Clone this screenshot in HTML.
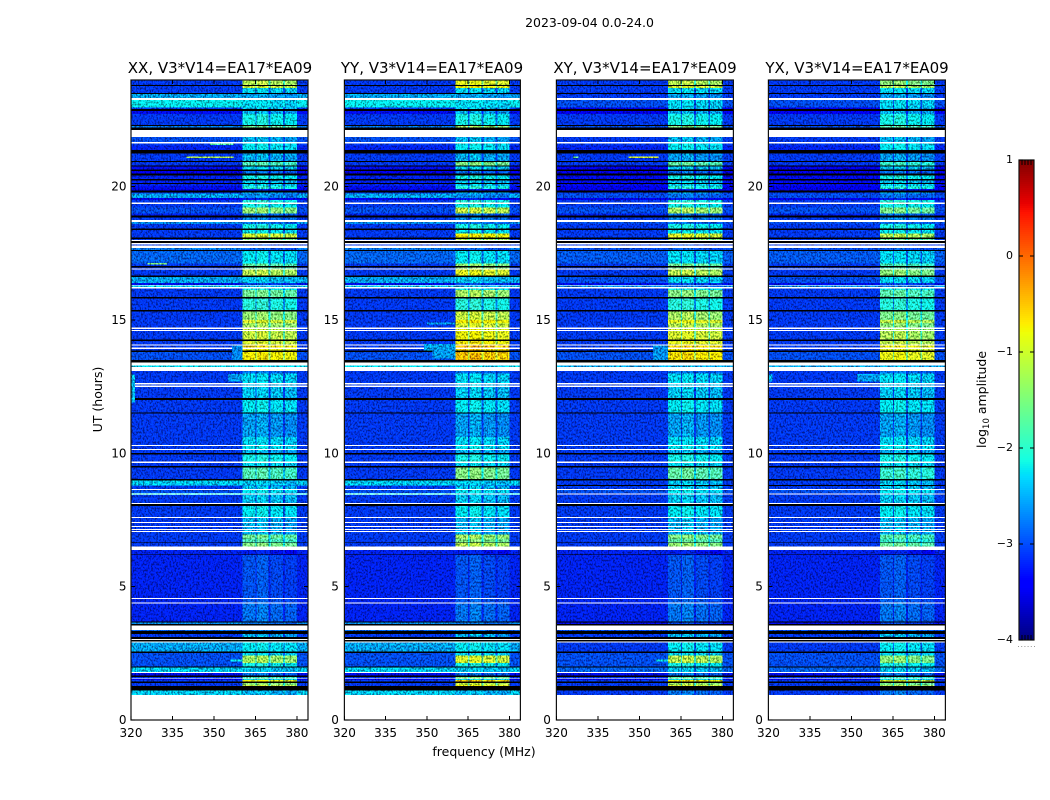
<!DOCTYPE html>
<html lang="en">
<head>
<meta charset="utf-8">
<title>2023-09-04 spectrograms</title>
<style>
html,body{margin:0;padding:0;background:#fff;width:1050px;height:800px;overflow:hidden}
svg{display:block}
text{font-family:"DejaVu Sans","Liberation Sans",sans-serif;fill:#000}
.tick{font-size:12px}
.title{font-size:15px}
.label{font-size:12.5px}
</style>
</head>
<body>
<svg id="chart" xmlns="http://www.w3.org/2000/svg" width="1050" height="800" viewBox="0 0 1050 800">
<defs>
<filter id="speckle-0" x="0" y="0" width="1" height="1" color-interpolation-filters="sRGB"><feTurbulence type="fractalNoise" baseFrequency="0.6 0.5" numOctaves="2" seed="3" result="n"/><feColorMatrix in="n" values="3 0 0 0 -1 3 0 0 0 -1 3 0 0 0 -1 0 0 0 0 1" result="v"/><feComposite in="SourceGraphic" in2="v" operator="arithmetic" k1="0.85" k2="0.57" k3="0" k4="0"/></filter>
<filter id="speckle-1" x="0" y="0" width="1" height="1" color-interpolation-filters="sRGB"><feTurbulence type="fractalNoise" baseFrequency="0.6 0.5" numOctaves="2" seed="11" result="n"/><feColorMatrix in="n" values="3 0 0 0 -1 3 0 0 0 -1 3 0 0 0 -1 0 0 0 0 1" result="v"/><feComposite in="SourceGraphic" in2="v" operator="arithmetic" k1="0.85" k2="0.57" k3="0" k4="0"/></filter>
<filter id="speckle-2" x="0" y="0" width="1" height="1" color-interpolation-filters="sRGB"><feTurbulence type="fractalNoise" baseFrequency="0.6 0.5" numOctaves="2" seed="23" result="n"/><feColorMatrix in="n" values="3 0 0 0 -1 3 0 0 0 -1 3 0 0 0 -1 0 0 0 0 1" result="v"/><feComposite in="SourceGraphic" in2="v" operator="arithmetic" k1="0.85" k2="0.57" k3="0" k4="0"/></filter>
<filter id="speckle-3" x="0" y="0" width="1" height="1" color-interpolation-filters="sRGB"><feTurbulence type="fractalNoise" baseFrequency="0.6 0.5" numOctaves="2" seed="37" result="n"/><feColorMatrix in="n" values="3 0 0 0 -1 3 0 0 0 -1 3 0 0 0 -1 0 0 0 0 1" result="v"/><feComposite in="SourceGraphic" in2="v" operator="arithmetic" k1="0.85" k2="0.57" k3="0" k4="0"/></filter>
</defs>
<rect x="0" y="0" width="1050" height="800" fill="#fff"/>
<text x="589.5" y="27" text-anchor="middle" style="font-size:12.5px">2023-09-04 0.0-24.0</text>
<text class="title" x="220" y="73" text-anchor="middle">XX, V3*V14=EA17*EA09</text>
<text class="title" x="432" y="73" text-anchor="middle">YY, V3*V14=EA17*EA09</text>
<text class="title" x="645" y="73" text-anchor="middle">XY, V3*V14=EA17*EA09</text>
<text class="title" x="857" y="73" text-anchor="middle">YX, V3*V14=EA17*EA09</text>
<text class="label" x="484" y="756" text-anchor="middle">frequency (MHz)</text>
<text class="label" transform="translate(102,399.5) rotate(-90)" text-anchor="middle">UT (hours)</text>
<text class="label" transform="translate(986,399.5) rotate(-90)" text-anchor="middle">log<tspan dy="3" style="font-size:8.5px">10</tspan><tspan dy="-3"> amplitude</tspan></text>
<g id="panels"></g>
<g id="colorbar"></g>
</svg>
<script>
/* ---------- data (log10 amplitude, hours, MHz) ---------- */
const W = null;   // no data (white)
const K = -9;     // below colour range (black)

const hourTicks = [0, 5, 10, 15, 20];
const freqTicks = [320, 335, 350, 365, 380];
const colorTicks = [1, 0, -1, -2, -3, -4];
const colorTickLabels = ['1', '0', '\u22121', '\u22122', '\u22123', '\u22124'];

// lower edge (hours) of each time row, top of the plot downward
const rowEdge = [
23.81,23.78,23.70,23.51,23.48,23.33,23.25,22.97,22.91,22.84,
22.73,22.31,22.28,22.22,22.13,21.86,21.68,21.62,21.54,21.38,
21.24,20.96,20.93,20.79,20.76,20.64,20.59,20.49,20.42,20.29,
20.23,20.14,20.10,20.03,19.91,19.86,19.78,19.74,19.58,19.50,
19.41,19.35,19.22,18.99,18.92,18.84,18.75,18.68,18.60,18.43,
18.38,18.24,18.09,18.04,18.00,17.96,17.89,17.83,17.79,17.70,
17.63,17.59,17.12,17.03,16.97,16.93,16.89,16.67,16.61,16.39,
16.32,16.29,16.24,16.18,16.13,15.86,15.81,15.38,15.31,15.00,
14.89,14.71,14.66,14.63,14.59,14.54,14.26,14.21,14.09,14.04,
13.96,13.92,13.86,13.80,13.50,13.41,13.30,13.23,13.09,13.00,
12.63,12.59,12.54,12.49,12.08,12.00,11.54,11.50,10.62,10.31,
10.28,10.17,10.13,10.02,9.96,9.69,9.64,9.53,9.46,9.03,
8.99,8.81,8.78,8.66,8.63,8.52,8.50,8.46,8.43,8.13,
8.10,8.03,7.61,7.58,7.43,7.39,7.28,7.24,7.16,7.13,
7.09,7.05,6.96,6.81,6.66,6.63,6.50,6.38,6.21,6.19,
4.58,4.54,4.40,4.36,3.69,3.65,3.60,3.55,3.38,3.33,
3.23,3.12,3.04,3.00,2.95,2.91,2.56,2.52,2.41,2.13,
2.00,1.96,1.80,1.76,1.66,1.61,1.56,1.54,1.50,1.44,
1.39,1.32,1.28,1.24,1.10,0.94,0
];

// background level outside the 360-380 MHz block, parallel hands (XX, YY)
const parallelBase = [
-3,K,-3,-3,K,-2.5,W,-2.1,-3,K,
-3.2,-3,K,-2.7,K,W,-2.9,W,-3,-3.1,
K,-3,K,-3,K,-3.2,K,-3.3,K,-3.1,
K,-3.1,K,-3.1,-3.2,-3.4,K,-3,-2.5,-3.3,
-3,W,-3,-2.9,-3.1,K,-3,W,-2.6,-3,
K,-3,-3,K,-3,W,K,W,-3,W,
-2.7,K,-2.8,-3,K,-3,W,-3,K,-2.5,
-3.2,W,-2.3,W,-3,-3,K,-3,K,-3,
-3,-3,W,-3,W,-3,-3,K,-3,W,
-3,W,-3,K,-2.9,K,W,-2.2,W,-3,
-3,W,-3,W,-3,K,-3,K,-3,-3,
W,-3,W,-3,K,-3,W,-3,K,-3,
K,-2.3,-2.6,-3,W,-2.9,W,-2.2,W,-3,
W,K,-3,W,-3,W,-3,W,-3,W,
-3,W,-3,-3,-3,K,-3,W,-3.1,K,
-3.1,W,-3.1,W,-3.1,K,-2.6,K,W,-2.8,
K,-3,K,W,K,W,-2.5,K,-2.9,-2.9,
-2.9,K,-2.3,W,-3.2,K,-3,W,-3.3,-3,
K,-3,-3,K,K,-2.3,W
];

// level inside the 360-380 MHz block, parallel hands
const parallelBand = [
-1.1,K,-0.95,-2.1,K,-2.4,W,-2.1,-2.2,K,
-2.3,-1.9,K,-1.5,K,W,-2.3,W,-2,-2,
K,-2.3,K,-1.7,K,-2.1,K,-2.6,K,-1.9,
K,-2.2,K,-2.1,-1.8,-3,K,-2.3,-2.5,-3,
-1.8,W,-1.9,-1.3,-2.6,K,-2.5,W,-2.6,-1.9,
K,-2,-0.9,K,-1.4,W,K,W,-2.8,W,
-2.7,K,-2,-1.6,K,-1.6,W,-1.1,K,-2.2,
-2.8,W,-2.3,W,-1.9,-1.5,K,-1.8,K,-1.3,
-0.9,-1.2,W,-1,W,-1,-1,K,-0.9,W,
-0.5,W,-0.7,K,-0.6,K,W,-2.1,W,-2.6,
-2.1,W,-2.2,W,-2.2,K,-2,K,-2.4,-2.1,
W,-2,W,-2.3,K,-1.9,W,-2.1,K,-1.7,
K,-2.2,-2.4,-2.2,W,-2,W,-2.2,W,-2.2,
W,K,-2,W,-2.3,W,-2.3,W,-2.3,W,
-2.3,W,-2.3,-1.5,-1.7,K,-1.4,W,-3,K,
-2.75,W,-2.7,W,-2.6,K,-2.6,K,W,-2.6,
K,-2.3,K,W,K,W,-2,K,-2.1,-1.2,
-1.9,K,-2.2,W,-2.6,K,-1.7,W,-2,-0.7,
K,-1.3,-1,K,K,-2.3,W
];

// background level, cross hands (XY, YX)
const crossBase = [
-3,K,-3,-3,K,-3,W,-2.9,-3.3,K,
-3.3,-3,K,-2.9,K,W,-3,W,-3,-3.1,
K,-3,K,-3,K,-3.3,K,-3.4,K,-3.2,
K,-3.2,K,-3.2,-3.3,-3.4,K,-3,-2.9,-3.3,
-3,W,-3,-2.9,-3.1,K,-3,W,-2.9,-3,
K,-3,-3,K,-3,W,K,W,-3,W,
-2.9,K,-2.85,-3,K,-3,W,-3,K,-2.9,
-3.2,W,-2.6,W,-3,-3,K,-3,K,-3,
-3,-3,W,-3,W,-3,-3,K,-3,W,
-3,W,-3,K,-2.9,K,W,-2.5,W,-3,
-3,W,-3,W,-3,K,-3,K,-3,-3,
W,-3,W,-3,K,-3,W,-3,K,-3,
K,-3,K,-3,W,-2.9,W,-3,W,-3,
W,K,-3,W,-3,W,-3,W,-3,W,
-3,W,-3,-3,-3,K,-3,W,-3.1,K,
-3.1,W,-3.1,W,-3.1,K,-3.2,K,W,-2.9,
K,-3,K,W,K,W,-3,K,-2.9,-2.9,
-2.9,K,-2.8,W,-3.2,K,-3,W,-3.3,-3,
K,-3,-3,K,K,-3,W
];

// level inside the 360-380 MHz block, cross hands
const crossBand = [
-1.2,K,-1,-2.1,K,-2.4,W,-2.1,-2.2,K,
-2.3,-1.9,K,-1.5,K,W,-2.3,W,-2,-2,
K,-2.4,K,-1.7,K,-2.2,K,-2.6,K,-1.9,
K,-2.2,K,-2.1,-1.8,-3,K,-2.3,-2.6,-3,
-1.8,W,-1.9,-1.3,-2.6,K,-2.5,W,-2.6,-1.9,
K,-2,-0.95,K,-1.4,W,K,W,-2.8,W,
-2.7,K,-2.1,-1.6,K,-1.6,W,-1.2,K,-2.1,
-2.8,W,-2.6,W,-1.9,-1.5,K,-1.8,K,-1.3,
-0.9,-1.2,W,-1,W,-1,-1,K,-0.9,W,
-0.5,W,-0.7,K,-0.6,K,W,-2.3,W,-2.6,
-2.1,W,-2.2,W,-2.2,K,-2,K,-2.4,-2.1,
W,-2,W,-2.3,K,-1.9,W,-2.1,K,-1.7,
K,-2.2,K,-2.2,W,-2,W,-2.2,W,-2.2,
W,K,-2,W,-2.3,W,-2.3,W,-2.3,W,
-2.3,W,-2.3,-1.5,-1.7,K,-1.4,W,-3,K,
-2.75,W,-2.7,W,-2.6,K,-2.8,K,W,-2.6,
K,-2.3,K,W,K,W,-2,K,-2.1,-1.2,
-1.9,K,-2.2,W,-2.6,K,-1.7,W,-2,-0.7,
K,-1.3,-1,K,K,-2.6,W
];

// level corrections (log10): per-product gain on bright rows, shifts on faint rows and background
const panelBandGain = [-0.1, 0.2, 0, -0.25];
const subbandGain = [0, 0.05, -0.05, -0.1];
const brightThreshold = -1.75;
const faintBandShift = -0.25;
const baseShift = -0.12;
const gapDrop = 0.7;

// the four subbands of the bright block, MHz
const subbandFrom = [360.4, 365.4, 370.5, 375.6];
const subbandTo = [365, 369.8, 375, 380];

// narrow features: interference lines, shelves next to the block
const patchPanel    = [0,     2,     2,     0,     0,     1,     1,     1,     0,     2,     0,     3,     0,     3,     0,     2];
const patchHourTop  = [21.13, 21.13, 21.13, 21.61, 17.14, 14.10, 13.94, 14.91, 14.05, 14.05, 12.98, 12.98, 12.95, 12.95, 2.27,  2.27];
const patchHourEnd  = [21.07, 21.07, 21.07, 21.56, 17.08, 13.86, 13.55, 14.84, 13.50, 13.50, 12.70, 12.70, 11.90, 12.70, 2.20,  2.20];
const patchFreqFrom = [340,   346,   326,   348.6, 326,   349,   352,   350,   356.5, 355,   355,   352,   320,   320,   356,   356];
const patchFreqTo   = [357,   357,   328,   357,   333,   360.4, 360.4, 360.4, 360.4, 360.4, 360.4, 360.4, 321.4, 321.4, 360.4, 360.4];
const patchLevel    = [-1.2,  -1.0,  -1.6,  -1.8,  -1.5,  -2.6,  -2.65, -2.6,  -2.75, -2.7,  -2.65, -2.65, -2.5,  -2.5,  -2.2,  -2.2];

/* ---------- layout and scales ---------- */
const panelIds = ['xx', 'yy', 'xy', 'yx'];
const panelLeft = [131, 344.4, 556.4, 768.4];
const panelWidth = [177, 176, 177, 177];
const yLabelGap = [4.5, 5.5, 5.5, 5.5];
const plotTop = 80, plotBottom = 720;
const hourMin = 0, hourMax = 24, freqMin = 320, freqMax = 384;
const colorMin = -4, colorMax = 1;
const cbLeft = 1019, cbRight = 1034, cbTop = 160, cbBottom = 640;

function xScale(p, f) { return panelLeft[p] + (f - freqMin) / (freqMax - freqMin) * panelWidth[p]; }
function yScale(h) { return plotBottom - (h - hourMin) / (hourMax - hourMin) * (plotBottom - plotTop); }
function cbScale(v) { return cbBottom - (v - colorMin) / (colorMax - colorMin) * (cbBottom - cbTop); }

function ramp(t, pts) {
  if (t <= pts[0][0]) return pts[0][1];
  for (let i = 1; i < pts.length; i++) {
    if (t <= pts[i][0]) {
      const a = pts[i - 1], b = pts[i];
      return a[1] + (t - a[0]) / (b[0] - a[0]) * (b[1] - a[1]);
    }
  }
  return pts[pts.length - 1][1];
}
const jetR = [[0.35, 0], [0.66, 1], [0.89, 1], [1, 0.5]];
const jetG = [[0.125, 0], [0.375, 1], [0.64, 1], [0.91, 0]];
const jetB = [[0, 0.5], [0.11, 1], [0.34, 1], [0.65, 0]];
function colorOf(v) {
  if (v <= K) return '#000';
  const t = Math.max(0, Math.min(1, (v - colorMin) / (colorMax - colorMin)));
  return 'rgb(' + Math.round(ramp(t, jetR) * 255) + ',' + Math.round(ramp(t, jetG) * 255) + ',' + Math.round(ramp(t, jetB) * 255) + ')';
}

const NS = 'http://www.w3.org/2000/svg';
function make(tag, parent) {
  const el = document.createElementNS(NS, tag);
  parent.appendChild(el);
  return el;
}
function addCell(g, p, fFrom, fTo, hTop, hEnd, level) {
  const x0 = xScale(p, fFrom), x1 = xScale(p, fTo), y0 = yScale(hTop), y1 = yScale(hEnd);
  const el = make('rect', g);
  
  
  el.setAttribute('x', x0.toFixed(2));
  el.setAttribute('y', y0.toFixed(2));
  el.setAttribute('width', (x1 - x0).toFixed(2));
  el.setAttribute('height', (y1 - y0).toFixed(2));
  el.setAttribute('fill', colorOf(level));
  el.setAttribute('shape-rendering', 'crispEdges');
}
function addLine(parent, x1, y1, x2, y2, name) {
  const el = make('line', parent);
  
  
  el.setAttribute('x1', x1);
  el.setAttribute('y1', y1);
  el.setAttribute('x2', x2);
  el.setAttribute('y2', y2);
  el.setAttribute('stroke', '#000');
  el.setAttribute('stroke-width', '1');
  el.setAttribute('shape-rendering', 'crispEdges');
}

/* ---------- panels ---------- */
const panelsRoot = document.getElementById('panels');
panelIds.forEach(function (id, p) {
  const g = make('g', panelsRoot);
  
  

  const cells = make('g', g);
  
  
  cells.setAttribute('filter', 'url(#speckle-' + p + ')');

  const base = p < 2 ? parallelBase : crossBase;
  const band = p < 2 ? parallelBand : crossBand;
  for (let r = 0; r < rowEdge.length; r++) {
    const hTop = r === 0 ? hourMax : rowEdge[r - 1];
    const hEnd = rowEdge[r];
    const raw = base[r];
    if (raw === W) continue;
    if (raw === K) {
      addCell(cells, p, freqMin, freqMax, hTop, hEnd, K);
      continue;
    }
    const b = raw + baseShift;
    addCell(cells, p, freqMin, freqMax, hTop, hEnd, b);
    const lvl = band[r] < brightThreshold ? band[r] + faintBandShift : band[r] + panelBandGain[p];
    addCell(cells, p, subbandFrom[0], subbandTo[3], hTop, hEnd, Math.max(b, lvl - gapDrop));
    for (let s = 0; s < subbandFrom.length; s++) {
      addCell(cells, p, subbandFrom[s], subbandTo[s], hTop, hEnd, lvl + subbandGain[s]);
    }
  }
  for (let k = 0; k < patchPanel.length; k++) {
    if (patchPanel[k] !== p) continue;
    addCell(cells, p, patchFreqFrom[k], patchFreqTo[k], patchHourTop[k], patchHourEnd[k], patchLevel[k]);
  }

  const left = xScale(p, freqMin), right = xScale(p, freqMax);
  const frame = make('rect', g);
  
  
  frame.setAttribute('x', left.toFixed(1));
  frame.setAttribute('y', plotTop);
  frame.setAttribute('width', panelWidth[p]);
  frame.setAttribute('height', plotBottom - plotTop);
  frame.setAttribute('fill', 'none');
  frame.setAttribute('stroke', '#111');
  frame.setAttribute('stroke-width', '1.2');

  hourTicks.forEach(function (h) {
    const y = yScale(h);
    addLine(g, left, y, left + 4, y, 'y-tick');
    addLine(g, right - 4, y, right, y, 'y-tick');
    const t = make('text', g);
    
    
    t.setAttribute('class', 'tick');
    t.setAttribute('x', (left - yLabelGap[p]).toFixed(1));
    t.setAttribute('y', (y + 4).toFixed(1));
    t.setAttribute('text-anchor', 'end');
    t.textContent = String(h);
  });
  freqTicks.forEach(function (f) {
    const x = xScale(p, f);
    addLine(g, x, plotBottom, x, plotBottom - 4, 'x-tick');
    addLine(g, x, plotTop, x, plotTop + 4, 'x-tick');
    const t = make('text', g);
    
    
    t.setAttribute('class', 'tick');
    t.setAttribute('x', x.toFixed(1));
    t.setAttribute('y', plotBottom + 17);
    t.setAttribute('text-anchor', 'middle');
    t.textContent = String(f);
  });
});

/* ---------- colour bar ---------- */
const cbRoot = document.getElementById('colorbar');
const cbSteps = 240;
for (let i = 0; i < cbSteps; i++) {
  const v0 = colorMin + i * (colorMax - colorMin) / cbSteps;
  const v1 = colorMin + (i + 1) * (colorMax - colorMin) / cbSteps;
  const el = make('rect', cbRoot);
  
  
  el.setAttribute('x', cbLeft);
  el.setAttribute('y', cbScale(v1).toFixed(2));
  el.setAttribute('width', cbRight - cbLeft);
  el.setAttribute('height', (cbScale(v0) - cbScale(v1)).toFixed(2));
  el.setAttribute('fill', colorOf((v0 + v1) / 2));
  el.setAttribute('shape-rendering', 'crispEdges');
}
const cbFrame = make('rect', cbRoot);


cbFrame.setAttribute('x', cbLeft);
cbFrame.setAttribute('y', cbTop);
cbFrame.setAttribute('width', cbRight - cbLeft);
cbFrame.setAttribute('height', cbBottom - cbTop);
cbFrame.setAttribute('fill', 'none');
cbFrame.setAttribute('stroke', '#111');
cbFrame.setAttribute('stroke-width', '1.2');

colorTicks.forEach(function (v, i) {
  const y = cbScale(v);
  addLine(cbRoot, cbLeft, y, cbLeft + 4, y, 'colorbar-tick');
  addLine(cbRoot, cbRight - 4, y, cbRight, y, 'colorbar-tick');
  const t = make('text', cbRoot);
  
  
  t.setAttribute('x', cbLeft - 6);
  t.setAttribute('y', y + 3);
  t.setAttribute('text-anchor', 'end');
  t.setAttribute('style', 'font-size:11px');
  t.textContent = colorTickLabels[i];
});
for (let i = 1; i < 5; i++) {
  const x = cbLeft + i * (cbRight - cbLeft) / 5;
  addLine(cbRoot, x, cbTop, x, cbTop + 5, 'colorbar-edge-tick');
  addLine(cbRoot, x, cbBottom, x, cbBottom - 5, 'colorbar-edge-tick');
}
for (let i = 0; i < 6; i++) {
  const dot = make('rect', cbRoot);
  
  
  dot.setAttribute('x', cbLeft - 1 + i * 3.2);
  dot.setAttribute('y', 646);
  dot.setAttribute('width', 1);
  dot.setAttribute('height', 1);
  dot.setAttribute('fill', '#999');
}
</script>
</body>
</html>
